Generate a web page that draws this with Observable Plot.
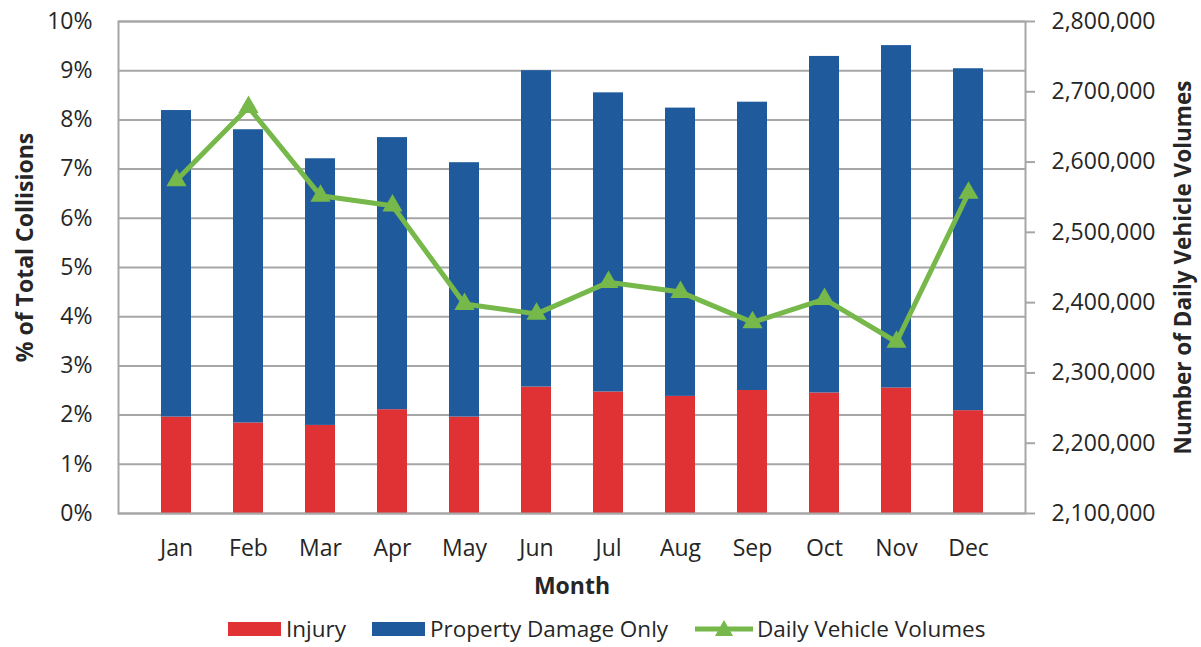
<!DOCTYPE html>
<html>
<head>
<meta charset="utf-8">
<script src="https://cdn.jsdelivr.net/npm/d3@7"></script>
<script src="https://cdn.jsdelivr.net/npm/@observablehq/plot@0.6"></script>
<style>
  html, body { margin: 0; background: #fff; font-family: "Open Sans", sans-serif; color: #262626; overflow: hidden; }
  #legend { position: relative; height: 30px; margin-top: 14px; font-size: 22.5px; line-height: 30px; }
  .item { position: absolute; top: 0; height: 30px; display: flex; align-items: center; white-space: nowrap; }
  .item svg { margin-right: 5px; }
</style>
</head>
<body>
<div id="chart"></div>
<div id="legend"></div>
<script>
const months = ["Jan","Feb","Mar","Apr","May","Jun","Jul","Aug","Sep","Oct","Nov","Dec"];
const injury = [1.96,1.84,1.79,2.11,1.96,2.57,2.47,2.38,2.50,2.45,2.55,2.09];
const propertyDamage = [6.23,5.96,5.42,5.53,5.17,6.43,6.08,5.86,5.86,6.84,6.96,6.95];
const volumes = [2574000,2678000,2552000,2538000,2398000,2384000,2429000,2415000,2372000,2405000,2344000,2556000];
const pctTicks = [0,1,2,3,4,5,6,7,8,9,10];
const volTicks = [2100000,2200000,2300000,2400000,2500000,2600000,2700000,2800000];
const seriesNames = ["Injury","Property Damage Only","Daily Vehicle Volumes"];
const colors = ["#E03234","#1F5A9C","#77B84B"];

const volMin = 2100000, volMax = 2800000;
const toY = v => (v - volMin) / (volMax - volMin) * 10;
const fromY = y => volMin + y / 10 * (volMax - volMin);

const barData = [];
months.forEach((m, i) => {
  barData.push({month: m, series: seriesNames[0], value: injury[i]});
  barData.push({month: m, series: seriesNames[1], value: propertyDamage[i]});
});
const lineData = months.map((m, i) => ({month: m, volume: volumes[i]}));

const chart = Plot.plot({
  width: 1201, height: 600,
  marginLeft: 118, marginRight: 176, marginTop: 21, marginBottom: 87,
  style: {fontFamily: "Open Sans", fontSize: "23px", color: "#262626", background: "#fff"},
  x: {domain: months, padding: 0.59, label: null},
  y: {domain: [0, 10], label: null},
  color: {domain: seriesNames.slice(0, 2), range: colors.slice(0, 2)},
  marks: [
    Plot.gridY(pctTicks, {stroke: "#A6A6A6", strokeOpacity: 1, strokeWidth: 2}),
    Plot.barY(barData, {x: "month", y: "value", fill: "series", order: seriesNames.slice(0, 2)}),
    Plot.frame({stroke: "#A6A6A6", strokeWidth: 2}),
    Plot.axisY(pctTicks, {anchor: "left", tickSize: 0, tickPadding: 26, tickFormat: d => d + "%", label: null}),
    Plot.axisY(volTicks.map(toY), {anchor: "right", tickSize: 9, tickPadding: 17, stroke: "#A6A6A6", strokeWidth: 2,
      tickFormat: d => d3.format(",")(Math.round(fromY(d))), label: null}),
    Plot.axisX({tickSize: 0, tickPadding: 26, label: null}),
    Plot.line(lineData, {x: "month", y: d => toY(d.volume), stroke: colors[2], strokeWidth: 5, strokeLinejoin: "round"}),
    Plot.dot(lineData, {x: "month", y: d => toY(d.volume), symbol: "triangle", r: 7.5, fill: colors[2]}),
    Plot.text(["% of Total Collisions"], {text: d => d, frameAnchor: "left", textAnchor: "middle", dx: -93, dy: -20, rotate: -90, fontWeight: "bold", fontSize: 23}),
    Plot.text(["Number of Daily Vehicle Volumes"], {text: d => d, frameAnchor: "right", textAnchor: "middle", dx: 158, rotate: -90, fontWeight: "bold", fontSize: 22.5}),
    Plot.text(["Month"], {text: d => d, frameAnchor: "bottom", dy: 80, fontWeight: "bold", fontSize: 23})
  ]
});
document.getElementById("chart").appendChild(chart);

// Legend
const legend = document.getElementById("legend");
const items = [
  {name: seriesNames[0], color: colors[0], left: 228, type: "rect"},
  {name: seriesNames[1], color: colors[1], left: 372, type: "rect"},
  {name: seriesNames[2], color: colors[2], left: 695, type: "line"}
];
items.forEach(it => {
  const div = document.createElement("div");
  div.className = "item";
  div.style.left = it.left + "px";
  let sw;
  if (it.type === "rect") {
    sw = `<svg width="53" height="14"><rect x="0" y="0" width="53" height="14" fill="${it.color}"/></svg>`;
  } else {
    sw = `<svg width="58" height="20" style="margin-right:4px"><line x1="0" y1="10" x2="58" y2="10" stroke="${it.color}" stroke-width="5"/><path d="M29,1 L38,17 L20,17 Z" fill="${it.color}"/></svg>`;
  }
  div.innerHTML = sw + `<span>${it.name}</span>`;
  legend.appendChild(div);
});
</script>
</body>
</html>
